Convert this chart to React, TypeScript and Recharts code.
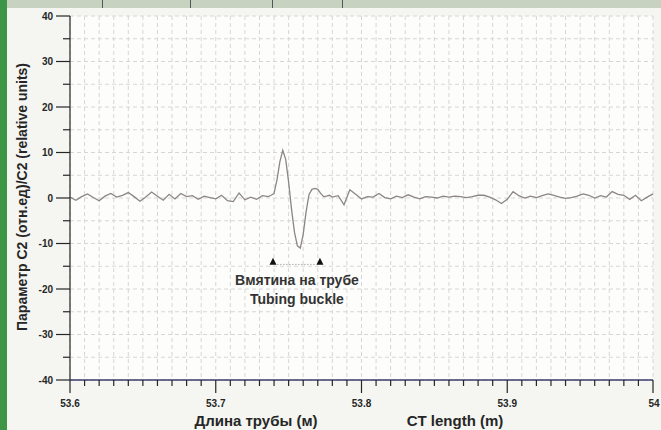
import React from 'react'
import {
  LineChart,
  Line,
  XAxis,
  YAxis,
  CartesianGrid,
  ReferenceDot,
  ReferenceLine,
} from 'recharts'

// CT length (m)
const lengths = [
  53.6, 53.604, 53.608, 53.612, 53.616, 53.62, 53.624, 53.628, 53.632, 53.636,
  53.64, 53.644, 53.648, 53.652, 53.656, 53.66, 53.664, 53.668, 53.672, 53.676,
  53.68, 53.684, 53.688, 53.692, 53.696, 53.7, 53.704, 53.708, 53.712, 53.716,
  53.72, 53.724, 53.728, 53.732, 53.736,
  53.738, 53.74, 53.742, 53.744, 53.746, 53.748, 53.75, 53.752, 53.754, 53.756,
  53.758, 53.76, 53.762, 53.764, 53.766, 53.768, 53.77, 53.772, 53.774, 53.776,
  53.778, 53.78,
  53.784, 53.788, 53.792, 53.796, 53.8, 53.804, 53.808, 53.812, 53.816, 53.82,
  53.824, 53.828, 53.832, 53.836, 53.84, 53.844, 53.848, 53.852, 53.856, 53.86,
  53.864, 53.868, 53.872, 53.876, 53.88, 53.884, 53.888, 53.892, 53.896, 53.9,
  53.904, 53.908, 53.912, 53.916, 53.92, 53.924, 53.928, 53.932, 53.936, 53.94,
  53.944, 53.948, 53.952, 53.956, 53.96, 53.964, 53.968, 53.972, 53.976, 53.98,
  53.984, 53.988, 53.992, 53.996, 54,
]

// parameter C2 (relative units)
const c2 = [
  0.2, -0.5, 0.3, 0.9, 0.1, -0.6, 0.4, 1.0, 0.2, 0.6,
  1.2, 0.3, -0.7, 0.2, 1.3, 0.4, -0.5, 0.8, -0.2, 1.0,
  0.3, 0.5, -0.3, 0.4, 0.1, -0.2, 0.6, -0.6, -0.8, 1.1,
  -0.4, 0.2, -0.3, 0.5, 0.3,
  0.6, 1.0, 4.0, 8.0, 10.5, 8.5, 3.5, -2.5, -7.5, -10.5,
  -11.0, -8.0, -3.0, 0.8, 1.9, 2.1, 1.9, 1.0, 0.3, 0.4,
  0.6, 0.2,
  0.5, -1.5, 1.8, 0.8, -0.2, 0.3, 0.2, 1.0, 0.1, -0.2,
  0.4, 0.1, 0.7, 0.2, -0.2, 0.3, 0.2, 0.0, 0.4, 0.2,
  0.4, 0.3, 0.1, 0.3, 0.6, 0.6, 0.2, -0.4, -1.2, -0.3,
  1.4, 0.5, 0.0, 0.4, 0.1, 0.5, 0.9, 0.6, 0.2, -0.1,
  0.1, 0.4, 0.9, 0.6, 0.0, 0.5, 0.2, 1.4, 0.8, 0.6,
  -0.3, 0.6, -0.6, 0.2, 0.9,
]

const xMajorTicks = [53.6, 53.7, 53.8, 53.9, 54]
const xTickLabels = ['53.6', '53.7', '53.8', '53.9', '54']
const yMajorTicks = [40, 30, 20, 10, 0, -10, -20, -30, -40]

// dent markers
const dentStart = 53.7393
const dentEnd = 53.7715
const dentMarkY = -14

const font = '"Liberation Sans", Arial, sans-serif'
const ink = '#262626'

const data = lengths.map((x, i) => ({ x, c2: c2[i] }))

const xTicks: number[] = []
for (let i = 0; i <= 40; i++) xTicks.push(Math.round((53.6 + i * 0.01) * 1000) / 1000)
const yTicks: number[] = []
for (let v = -40; v <= 40; v += 5) yTicks.push(v)

// eslint-disable-next-line @typescript-eslint/no-explicit-any
function XTick({ x, y, payload }: any) {
  const idx = xMajorTicks.findIndex((m) => Math.abs(m - payload.value) < 1e-6)
  const major = idx >= 0
  return (
    <g>
      <line x1={x} x2={x} y1={y} y2={y + (major ? 13 : 6)} stroke={ink} strokeWidth={1.2} />
      {major && (
        <text
          x={idx === xMajorTicks.length - 1 ? x + 1 : x}
          y={y + 27}
          textAnchor="middle"
          fontSize={10}
          fontWeight="bold"
          fill={ink}
          fontFamily={font}
        >
          {xTickLabels[idx]}
        </text>
      )}
    </g>
  )
}

// eslint-disable-next-line @typescript-eslint/no-explicit-any
function YTick({ x, y, payload }: any) {
  const major = yMajorTicks.includes(payload.value)
  return (
    <g>
      <line x1={x - (major ? 14 : 7)} x2={x} y1={y} y2={y} stroke={ink} strokeWidth={1.2} />
      {major && (
        <text x={x - 17} y={y + 3.5} textAnchor="end" fontSize={10} fontWeight="bold" fill={ink} fontFamily={font}>
          {payload.value}
        </text>
      )}
    </g>
  )
}

// eslint-disable-next-line @typescript-eslint/no-explicit-any
function Triangle({ cx, cy }: any) {
  return <path d={`M${cx - 3.5},${cy + 3} L${cx + 3.5},${cy + 3} L${cx},${cy - 4} Z`} fill="#111" />
}

function AnnotationText(text: string) {
  // eslint-disable-next-line @typescript-eslint/no-explicit-any
  return ({ cx, cy }: any) => (
    <text x={cx} y={cy} textAnchor="middle" fontSize={14} fontWeight="bold" fill="#333" fontFamily={font}>
      {text}
    </text>
  )
}

export default function App() {
  return (
    <div
      style={{
        position: 'absolute',
        left: 0,
        top: 0,
        width: 661,
        height: 430,
        background: '#f5f6f2',
        overflow: 'hidden',
      }}
    >
      <div style={{ position: 'absolute', left: 0, top: 0, width: 661, height: 8, background: '#c8d2c0' }}>
        {[102, 190, 272, 342].map((l) => (
          <div key={l} style={{ position: 'absolute', left: l, top: 0, width: 1, height: 8, background: '#555' }} />
        ))}
      </div>
      <div style={{ position: 'absolute', left: 0, top: 0, width: 7, height: 430, background: '#3c9646' }} />
      <div style={{ position: 'absolute', left: 0, top: 0 }}>
        <LineChart width={661} height={430} data={data} margin={{ top: 16, right: 8, left: 0, bottom: 0 }}>
          <CartesianGrid stroke="#d6d6d6" strokeDasharray="4 3" fill="#fdfdfb" />
          <XAxis
            dataKey="x"
            type="number"
            domain={[53.6, 54]}
            ticks={xTicks}
            interval={0}
            height={50}
            tickSize={0}
            tickMargin={0}
            tick={<XTick />}
            axisLine={{ stroke: '#3b3d6a', strokeWidth: 1.5 }}
            allowDataOverflow
            label={{
              content: () => (
                <g fontFamily={font} fontWeight="bold" fontSize={15} fill={ink}>
                  <text x={256} y={426} textAnchor="middle">Длина трубы (м)</text>
                  <text x={455} y={426} textAnchor="middle">CT length (m)</text>
                </g>
              ),
            }}
          />
          <YAxis
            type="number"
            domain={[-40, 40]}
            ticks={yTicks}
            interval={0}
            width={70}
            tickSize={0}
            tickMargin={0}
            tick={<YTick />}
            axisLine={{ stroke: ink, strokeWidth: 1.2 }}
            allowDataOverflow
            label={{
              content: () => (
                <text
                  x={22}
                  y={197}
                  transform="rotate(-90 22 197)"
                  textAnchor="middle"
                  dominantBaseline="central"
                  fontFamily={font}
                  fontWeight="bold"
                  fontSize={14}
                  fill={ink}
                >
                  Параметр С2 (отн.ед)/С2 (relative units)
                </text>
              ),
            }}
          />
          <ReferenceLine
            segment={[
              { x: dentStart + 0.003, y: dentMarkY - 0.6 },
              { x: dentEnd - 0.003, y: dentMarkY - 0.6 },
            ]}
            stroke="#888"
            strokeDasharray="1 2"
          />
          <ReferenceDot x={dentStart} y={dentMarkY} shape={<Triangle />} />
          <ReferenceDot x={dentEnd} y={dentMarkY} shape={<Triangle />} />
          <ReferenceDot x={53.7557} y={-19.2} shape={AnnotationText('Вмятина на трубе')} />
          <ReferenceDot x={53.7557} y={-23.4} shape={AnnotationText('Tubing buckle')} />
          <Line
            type="linear"
            dataKey="c2"
            stroke="#8b8682"
            strokeWidth={1.3}
            dot={false}
            isAnimationActive={false}
          />
        </LineChart>
      </div>
    </div>
  )
}
